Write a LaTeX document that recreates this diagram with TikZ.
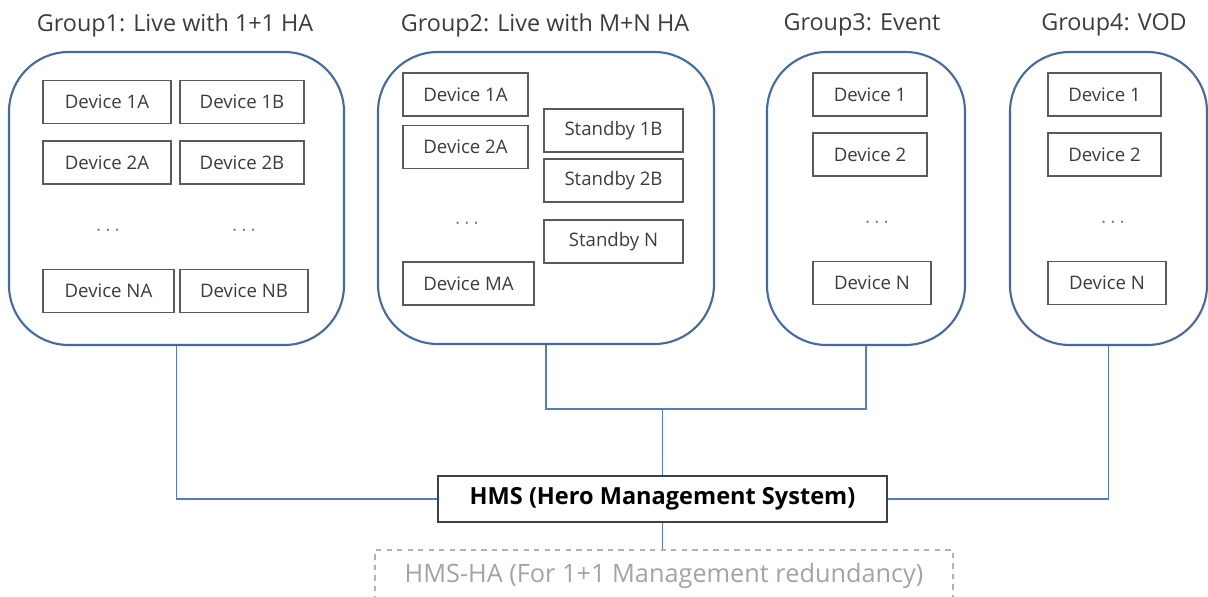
\documentclass[tikz,border=0pt]{standalone}
\usepackage{fontspec}
\setmainfont{Open Sans}
\usepackage{tikz}
\usetikzlibrary{positioning}
\usepackage{xcolor}
\definecolor{grpblue}{RGB}{66,106,164}
\definecolor{linkblue}{RGB}{84,125,190}
\definecolor{boxgray}{RGB}{90,90,90}
\definecolor{txtgray}{RGB}{60,60,60}

\begin{document}
\begin{tikzpicture}[
        x=0.02cm, y=-0.02cm,
        group/.style={draw=grpblue, line width=1.2pt, rounded corners=34pt, inner sep=0pt},
        device/.style={draw=boxgray, line width=0.8pt, minimum height=43*0.02cm, inner sep=0pt, text=txtgray, font=\fontsize{10.6}{12}\selectfont},
        gtitle/.style={text=txtgray, font=\fontsize{13.3}{15}\selectfont},
        dots/.style={text=black!55, font=\fontsize{10}{12}\selectfont},
        link/.style={draw=linkblue, line width=1.1pt}
      ]
      \useasboundingbox (0,0) rectangle (1208,596);
      % groups
      \node[group, minimum width=335*0.02cm, minimum height=293*0.02cm] (g1) at (176.5,198.5) {};
      \node[group, minimum width=336*0.02cm, minimum height=292*0.02cm] (g2) at (546,198) {};
      \node[group, minimum width=198*0.02cm, minimum height=293*0.02cm] (g3) at (866,198.5) {};
      \node[group, minimum width=197*0.02cm, minimum height=293*0.02cm] (g4) at (1108.5,198.5) {};
      \node[gtitle] (t1) at (175,25) {Group1: Live with 1+1 HA};
      \node[gtitle] (t2) at (545,25) {Group2: Live with M+N HA};
      \node[gtitle] (t3) at (862,25) {Group3: Event};
      \node[gtitle] (t4) at (1114,25) {Group4: VOD};
      % group 1
      \node[device, minimum width=128*0.02cm] (g1a1) at (107,102) {Device 1A};
      \node[device, minimum width=124*0.02cm] (g1b1) at (242,102) {Device 1B};
      \node[device, minimum width=128*0.02cm] (g1a2) at (107,162.5) {Device 2A};
      \node[device, minimum width=124*0.02cm] (g1b2) at (242,162.5) {Device 2B};
      \node[dots] (g1da) at (108,233) {· · ·};
      \node[dots] (g1db) at (244,233) {· · ·};
      \node[device, minimum width=131*0.02cm] (g1an) at (108.5,291) {Device NA};
      \node[device, minimum width=128*0.02cm] (g1bn) at (244,291) {Device NB};
      % group 2
      \node[device, minimum width=125*0.02cm] (g2a1) at (465.5,94.5) {Device 1A};
      \node[device, minimum width=125*0.02cm] (g2a2) at (465.5,147) {Device 2A};
      \node[dots] (g2d) at (467,226) {· · ·};
      \node[device, minimum width=131*0.02cm] (g2am) at (468.5,283.5) {Device MA};
      \node[device, minimum width=139*0.02cm] (g2s1) at (613.5,130.5) {Standby 1B};
      \node[device, minimum width=139*0.02cm] (g2s2) at (613.5,180.5) {Standby 2B};
      \node[device, minimum width=139*0.02cm] (g2sn) at (613.5,241.5) {Standby N};
      % group 3
      \node[device, minimum width=114*0.02cm] (g3d1) at (870,94.5) {Device 1};
      \node[device, minimum width=114*0.02cm] (g3d2) at (870,154.5) {Device 2};
      \node[dots] (g3d) at (877,225) {· · ·};
      \node[device, minimum width=118*0.02cm] (g3dn) at (872,283) {Device N};
      % group 4
      \node[device, minimum width=113*0.02cm] (g4d1) at (1104.5,94.5) {Device 1};
      \node[device, minimum width=113*0.02cm] (g4d2) at (1104.5,154.5) {Device 2};
      \node[dots] (g4d) at (1113,225) {· · ·};
      \node[device, minimum width=118*0.02cm] (g4dn) at (1107,283) {Device N};
      % management
      \node[draw=black!75, line width=1pt, minimum width=449*0.02cm, minimum height=46*0.02cm,
            font=\bfseries\fontsize{13.4}{15}\selectfont] (hms) at (662.5,499) {HMS (Hero Management System)};
      \node[draw=black!30, dashed, line width=1pt, minimum width=578*0.02cm, minimum height=52*0.02cm,
            text=black!36, font=\fontsize{14.4}{16}\selectfont] (ha) at (664,576) {HMS-HA (For 1+1 Management redundancy)};
      \coordinate (j) at (662.5,409);
      \draw[link] (g1.south) |- (hms.west);
      \draw[link] (g4.south) |- (hms.east);
      \draw[link] (g2.south) |- (j) -| (g3.south);
      \draw[link] (j) -- (hms.north);
      \draw[link] (hms.south) -- (hms.south |- ha.north);
    \end{tikzpicture}
\end{document}
